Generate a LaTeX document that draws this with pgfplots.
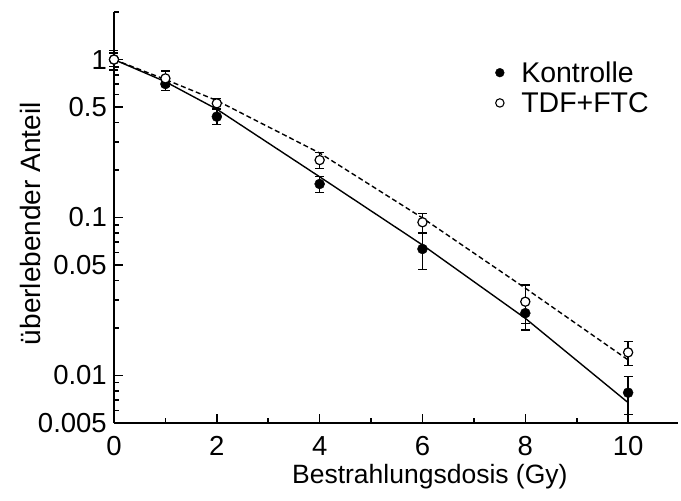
\documentclass[border=0pt]{standalone}
\usepackage{fontspec}
\setmainfont{Liberation Sans}
\usepackage{pgfplots}
\pgfplotsset{compat=1.18}
\begin{document}
\begin{tikzpicture}
\begin{axis}[
  scale only axis, width=564pt, height=411pt,
  xmin=0, xmax=10.97, ymin=0.005, ymax=2, ymode=log,
  axis x line=bottom, axis y line=left,
  axis line style={-, line width=1.9pt},
  tick align=inside, major tick length=9pt, minor tick length=5pt,
  every tick/.style={line width=1.6pt, black},
  xtick={0,2,4,6,8,10}, minor xtick={1,3,5,7,9},
  ytick={0.005,0.01,0.05,0.1,0.5,1},
  yticklabels={0.005,0.01,0.05,0.1,0.5,1},
  minor ytick={0.006,0.007,0.008,0.009,0.02,0.03,0.04,0.06,0.07,0.08,0.09,0.2,0.3,0.4,0.6,0.7,0.8,0.9,2},
  /pgf/number format/assume math mode=true,
  ticklabel style={font=\fontsize{27.5}{29}\selectfont},
  xticklabel style={anchor=base, yshift=-32.5pt},
  yticklabel style={inner sep=0pt, xshift=-7pt},
  xlabel={Bestrahlungsdosis (Gy)},
  xlabel style={at={(axis description cs:0.56,-0.146)}, anchor=base, font=\fontsize{26.5}{28}\selectfont},
  ylabel={überlebender Anteil},
  ylabel style={at={(axis description cs:-0.131,0.485)}, anchor=base, rotate=0, font=\fontsize{28}{30}\selectfont},
  clip=false,
  legend cell align=left,
  legend style={draw=none, fill=none, at={(axis description cs:0.676,0.878)}, anchor=north west,
    inner sep=0pt, row sep=10pt, column sep=17pt,
    font=\fontsize{28.5}{30}\selectfont,
    nodes={inner sep=0pt, text depth=0pt}},
]
% fitted curves
\addplot[black, line width=1.4pt, forget plot] coordinates {
  (0,1.0) (1,0.724) (2,0.485) (4,0.181) (6,0.067) (8,0.0230) (10,0.00673)};
\addplot[black, line width=1.4pt, dash pattern=on 5pt off 3pt, forget plot] coordinates {
  (0,1.0) (1,0.748) (2,0.550) (4,0.256) (6,0.0993) (8,0.0357) (10,0.01254)};
% Kontrolle
\addplot[black, only marks, mark=*, mark size=5pt, forget plot,
  error bars/.cd, y dir=both, y explicit, error mark=|,
  error bar style={line width=1.4pt, black},
  error mark options={line width=1.4pt, mark size=4.5pt, black}]
  table[x=x, y=y, y error=e] {
  x y e
  0 1.0 0.10
  1 0.700 0.065
  2 0.435 0.046
  4 0.163 0.019
  6 0.0632 0.0165
  8 0.0248 0.0054
  10 0.00778 0.0021
};
% TDF+FTC
\addplot[black, only marks, mark=*, mark options={fill=white, line width=1.2pt}, mark size=4.6pt, forget plot,
  error bars/.cd, y dir=both, y explicit, error mark=|,
  error bar style={line width=1.4pt, black},
  error mark options={line width=1.4pt, mark size=4.5pt, black}]
  table[x=x, y=y, y error=e] {
  x y e
  0 1.0 0.14
  1 0.760 0.085
  2 0.528 0.040
  4 0.231 0.026
  6 0.0933 0.013
  8 0.0293 0.008
  10 0.0140 0.0024
};
\addlegendimage{black, only marks, mark=*, mark size=4.4pt}
\addlegendentry{Kontrolle}
\addlegendimage{black, only marks, mark=*, mark options={fill=white, line width=1.1pt}, mark size=4.2pt}
\addlegendentry{TDF+FTC}
\end{axis}
\pgfresetboundingbox
\path[use as bounding box] (-114pt,-78pt) rectangle (567pt,423pt);
\end{tikzpicture}
\end{document}
